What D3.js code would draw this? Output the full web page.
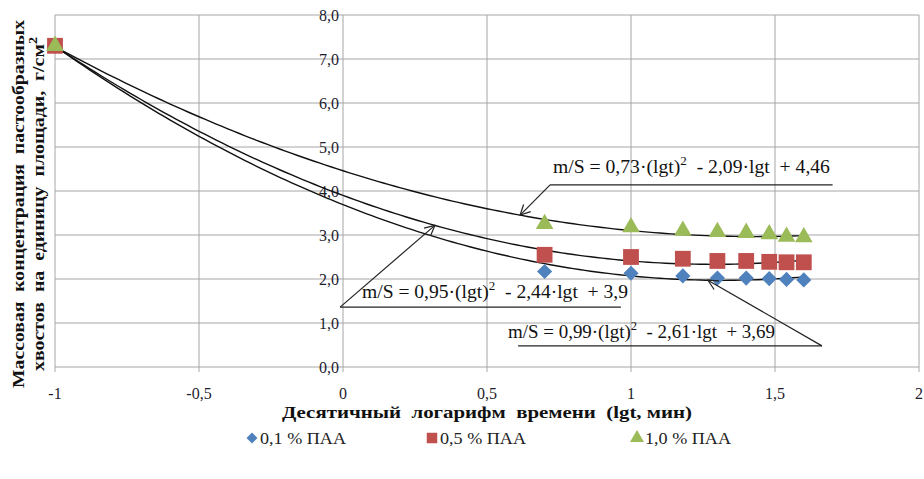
<!DOCTYPE html>
<meta charset="utf-8">
<style>
    body { margin: 0; background: #fff; }
    text { font-family: "Liberation Serif", "DejaVu Serif", serif; }
    .grid line { stroke: #a6a6a6; stroke-width: 1; }
    .tick-label { font-size: 16px; fill: #1c1c2c; }
    .trend { fill: none; stroke: #111; stroke-width: 1.4; }
    .callout { fill: none; stroke: #222; stroke-width: 1.2; }
    .eq { font-size: 18px; fill: #111; }
    .title { font-size: 17px; font-weight: bold; fill: #111; }
    .legend text { font-size: 17px; fill: #222; }
</style>
<script src="https://cdn.jsdelivr.net/npm/d3@7"></script>
<svg width="924" height="479"></svg>
<script>
    // lgt values (t = 0.1, 5, 10, 15, 20, 25, 30, 35, 40 min)
    var lgt = [-1, 0.7, 1.0, 1.18, 1.3, 1.4, 1.48, 1.54, 1.6];
    var paa01 = [7.3, 2.17, 2.13, 2.07, 2.02, 2.02, 2.01, 1.99, 1.98];
    var paa05 = [7.3, 2.55, 2.50, 2.46, 2.41, 2.41, 2.39, 2.38, 2.38];
    var paa10 = [7.3, 3.25, 3.18, 3.10, 3.07, 3.05, 3.02, 2.96, 2.95];

    var seriesNames = ["0,1 % ПАА", "0,5 % ПАА", "1,0 % ПАА"];
    var seriesColors = ["#4f81bd", "#c0504d", "#9bbb59"];
    // diamond is drawn as a square turned by 45 degrees
    var seriesShapes = [d3.symbolSquare, d3.symbolSquare, d3.symbolTriangle];
    var seriesRotate = [45, 0, 0];

    // trendline coefficients a, b, c for a*(lgt)^2 + b*lgt + c
    var trendCoef = [[0.99, -2.61, 3.69], [0.95, -2.44, 3.9], [0.73, -2.09, 4.46]];
    var trendLabels = [
        ["0,99", "2,61", "3,69"],
        ["0,95", "2,44", "3,9"],
        ["0,73", "2,09", "4,46"]
    ];
    // callouts: tip lgt, underline [start, end, y], text [lgt, y, width]
    var calloutTip = [1.267, 0.319, 0.615];
    var calloutLine = [[0.608, 1.663, 0.48], [-0.01, 0.965, 1.36], [0.719, 1.70, 4.14]];
    var calloutText = [[0.573, 0.66, 267], [0.066, 1.57, 266], [0.729, 4.4, 277]];

    var xTicks = [-1, -0.5, 0, 0.5, 1, 1.5, 2];
    var yTicks = [0, 1, 2, 3, 4, 5, 6, 7, 8];

    var svg = d3.select("svg");
    var x = d3.scaleLinear().domain([-1, 2]).range([55, 919]);
    var y = d3.scaleLinear().domain([0, 8]).range([367, 15]);

    var locale = d3.formatLocale({ decimal: ",", thousands: " ", grouping: [3], currency: ["", ""], minus: "-" });
    var fx = locale.format("");
    var fy = locale.format(".1f");

    // grid
    var grid = svg.append("g").attr("class", "grid");
    grid.selectAll(".h").data(yTicks).enter().append("line")
        .attr("x1", x(-1)).attr("x2", x(2))
        .attr("y1", function (d) { return y(d); }).attr("y2", function (d) { return y(d); });
    grid.selectAll(".v").data(xTicks).enter().append("line")
        .attr("x1", function (d) { return x(d); }).attr("x2", function (d) { return x(d); })
        .attr("y1", y(8)).attr("y2", y(0) + 5);

    // tick labels
    svg.selectAll(".xl").data(xTicks).enter().append("text")
        .attr("class", "tick-label")
        .attr("x", function (d) { return x(d); })
        .attr("y", y(0) + 32)
        .attr("text-anchor", "middle")
        .text(fx);
    svg.selectAll(".yl").data(yTicks).enter().append("text")
        .attr("class", "tick-label")
        .attr("x", x(0) - 4)
        .attr("y", function (d) { return y(d); })
        .attr("dy", "0.35em")
        .attr("text-anchor", "end")
        .text(fy);

    // trendlines
    var line = d3.line()
        .x(function (d) { return x(d[0]); })
        .y(function (d) { return y(d[1]); });
    trendCoef.forEach(function (c) {
        var pts = d3.range(-1, 1.6001, 0.02).map(function (t) {
            return [t, c[0] * t * t + c[1] * t + c[2]];
        });
        svg.append("path").attr("class", "trend").attr("d", line(pts));
    });

    // points
    var sizes = [115, 250, 135];
    [paa01, paa05, paa10].forEach(function (vals, i) {
        svg.append("g").selectAll("path")
            .data(vals).enter().append("path")
            .attr("transform", function (d, j) {
                return "translate(" + x(lgt[j]) + "," + y(d) + ") rotate(" + seriesRotate[i] + ")";
            })
            .attr("d", d3.symbol().type(seriesShapes[i]).size(sizes[i]))
            .attr("fill", seriesColors[i]);
    });

    // callouts
    svg.append("defs").append("marker")
        .attr("id", "arr").attr("viewBox", "0 0 12 12")
        .attr("refX", 11).attr("refY", 6)
        .attr("markerWidth", 12).attr("markerHeight", 12)
        .attr("markerUnits", "userSpaceOnUse")
        .attr("orient", "auto")
        .append("path").attr("d", "M1,1 L11,6 L1,11")
        .attr("fill", "none").attr("stroke", "#222").attr("stroke-width", 1.2);

    trendCoef.forEach(function (c, i) {
        var t = calloutTip[i];
        var tipY = c[0] * t * t + c[1] * t + c[2];
        var L = calloutLine[i];
        var startX = i === 0 ? L[1] : L[0];
        svg.append("line").attr("class", "callout")
            .attr("x1", x(L[0])).attr("x2", x(L[1]))
            .attr("y1", y(L[2])).attr("y2", y(L[2]));
        svg.append("line").attr("class", "callout")
            .attr("x1", x(startX)).attr("y1", y(L[2]))
            .attr("x2", x(t)).attr("y2", y(tipY))
            .attr("marker-end", "url(#arr)");

        var lab = trendLabels[i];
        var txt = svg.append("text").attr("class", "eq")
            .attr("x", x(calloutText[i][0])).attr("y", y(calloutText[i][1]))
            .attr("textLength", calloutText[i][2]).attr("lengthAdjust", "spacingAndGlyphs")
            .attr("xml:space", "preserve");
        txt.append("tspan").text("m/S = " + lab[0] + "·(lgt)");
        txt.append("tspan").attr("dy", -8).style("font-size", "12px").text("2");
        txt.append("tspan").attr("dy", 8).text("  - " + lab[1] + "·lgt  + " + lab[2]);
    });

    // axis titles
    svg.append("text").attr("class", "title")
        .attr("x", 487).attr("y", 418)
        .attr("text-anchor", "middle")
        .attr("textLength", 410).attr("lengthAdjust", "spacingAndGlyphs")
        .attr("xml:space", "preserve")
        .text("Десятичный  логарифм  времени  (lgt, мин)");

    var yt = svg.append("g").attr("transform", "translate(0,204) rotate(-90)");
    yt.append("text").attr("class", "title")
        .attr("x", 0).attr("y", 24)
        .attr("text-anchor", "middle")
        .attr("textLength", 368).attr("lengthAdjust", "spacingAndGlyphs")
        .attr("xml:space", "preserve")
        .text("Массовая  концентрация  пастообразных");
    var yt2 = yt.append("text").attr("class", "title")
        .attr("x", 0).attr("y", 44)
        .attr("text-anchor", "middle")
        .attr("textLength", 334).attr("lengthAdjust", "spacingAndGlyphs")
        .attr("xml:space", "preserve");
    yt2.append("tspan").text("хвостов  на  единицу  площади,  г/см");
    yt2.append("tspan").attr("dy", -7).style("font-size", "12px").text("2");

    // legend
    var legX = [252, 432, 637];
    var legSizes = [60, 110, 85];
    var legend = svg.append("g").attr("class", "legend");
    seriesNames.forEach(function (n, i) {
        legend.append("path")
            .attr("transform", "translate(" + legX[i] + ",438) rotate(" + seriesRotate[i] + ")")
            .attr("d", d3.symbol().type(seriesShapes[i]).size(legSizes[i]))
            .attr("fill", seriesColors[i]);
        legend.append("text")
            .attr("x", legX[i] + 8).attr("y", 444)
            .attr("textLength", 86).attr("lengthAdjust", "spacingAndGlyphs")
            .attr("xml:space", "preserve")
            .text(n);
    });
</script>
